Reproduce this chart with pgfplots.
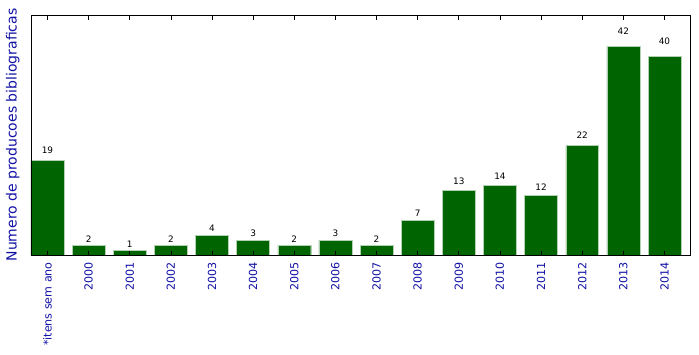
\documentclass[border=0pt]{standalone}
\usepackage{fontspec}
\setmainfont{DejaVu Sans}
\usepackage{pgfplots}
\pgfplotsset{compat=1.18}
\definecolor{barg}{RGB}{0,100,0}
\definecolor{lblue}{RGB}{16,16,165}
\begin{document}
\begin{tikzpicture}
\useasboundingbox (-31pt,-99pt) rectangle (668pt,255pt);
\begin{axis}[
  at={(0,0)}, anchor=south west,
  scale only axis, width=659pt, height=240pt,
  xmin=-0.4, xmax=15.62, ymin=0, ymax=48.3,
  axis on top,
  ytick=\empty,
  xtick={0,...,15},
  xticklabels={*itens sem ano,2000,2001,2002,2003,2004,2005,2006,2007,2008,2009,2010,2011,2012,2013,2014},
  xticklabel style={rotate=90, anchor=east, font=\fontsize{11.1}{12}\selectfont, text=lblue, inner sep=0pt, yshift=0pt, xshift=-7pt},
  major tick length=4.5pt,
  tick align=inside,
  xtick pos=both,
  tick style={black, line width=0.7pt},
  axis line style={line width=0.8pt},
  ylabel={Numero de producoes bibliograficas},
  ylabel style={font=\fontsize{14}{15}\selectfont, text=lblue, at={(axis description cs:0,0.5)}, anchor=south, yshift=8pt},
]
\addplot[ybar, bar width=0.8, fill=barg, draw=barg!30!white, line width=0.4pt] coordinates {
(0,19) (1,2) (2,1) (3,2) (4,4) (5,3) (6,2) (7,3) (8,2) (9,7) (10,13) (11,14) (12,12) (13,22) (14,42) (15,40)};
\addplot[draw=none, mark=none, point meta=explicit symbolic,
  nodes near coords={\pgfplotspointmeta},
  every node near coord/.append style={font=\fontsize{8.9}{9}\selectfont, black, anchor=south, inner sep=0pt}]
  coordinates {
(0,20.34)[19] (1,2.56)[2] (2,1.52)[1] (3,2.56)[2] (4,4.65)[4] (5,3.61)[3] (6,2.56)[2] (7,3.61)[3] (8,2.56)[2] (9,7.79)[7] (10,14.07)[13] (11,15.11)[14] (12,13.02)[12] (13,23.48)[22] (14,44.4)[42] (15,42.31)[40]};
\end{axis}
\end{tikzpicture}
\end{document}
